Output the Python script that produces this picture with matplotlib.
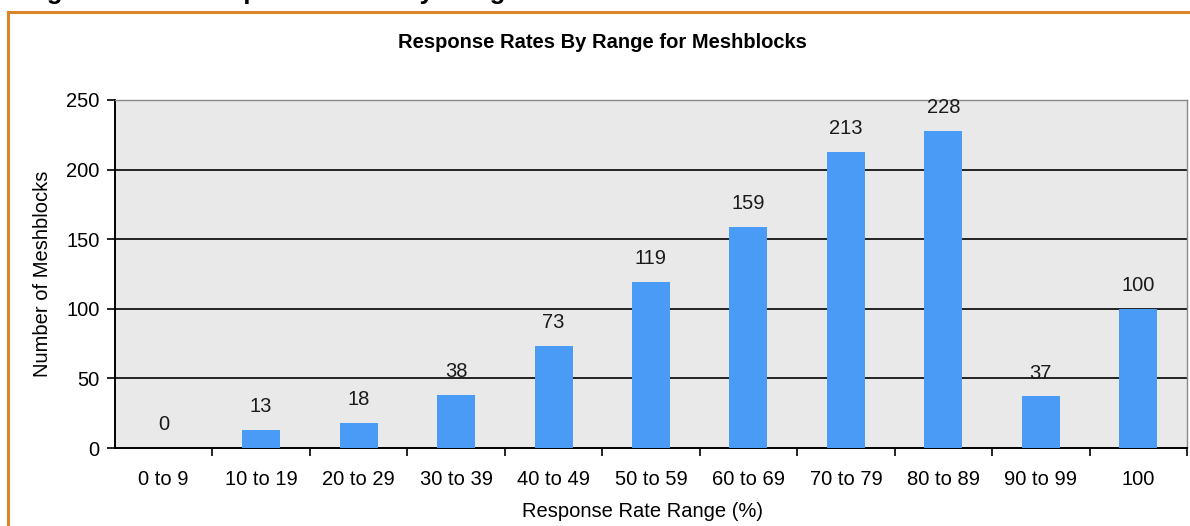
import matplotlib
matplotlib.use("Agg")
import matplotlib.pyplot as plt
from matplotlib.lines import Line2D

plt.rcParams['font.family'] = ['Liberation Sans', 'DejaVu Sans']

categories = ["0 to 9", "10 to 19", "20 to 29", "30 to 39", "40 to 49", "50 to 59",
              "60 to 69", "70 to 79", "80 to 89", "90 to 99", "100"]
meshblocks = [0, 13, 18, 38, 73, 119, 159, 213, 228, 37, 100]
y_ticks = [0, 50, 100, 150, 200, 250]

W, H = 1190, 526
fig = plt.figure(figsize=(W / 100, H / 100), dpi=100)
fig.patch.set_facecolor("white")

# Report heading, clipped by the top of the page
head_y = 1 + 1 / H
fig.text(24 / W, head_y, "Figure 4.1:", ha="left", va="baseline",
         fontsize=18.5, fontweight="bold", color="black")
fig.text(196 / W, head_y, "Response Rates by Range", ha="left", va="baseline",
         fontsize=18.5, fontweight="bold", color="black")

# Orange frame around the figure panel
frame_col = "#D9852A"
fig.add_artist(Line2D([8 / W, 1.0], [1 - 11.5 / H, 1 - 11.5 / H], color=frame_col,
                      lw=2.2, transform=fig.transFigure))
fig.add_artist(Line2D([8 / W, 8 / W], [0.0, 1 - 11.5 / H], color=frame_col,
                      lw=2.2, transform=fig.transFigure))

left, right, top, bottom = 115, 1187, 100, 448
ax = fig.add_axes([left / W, 1 - bottom / H, (right - left) / W, (bottom - top) / H])
ax.set_facecolor("#E9E9E9")

fs = 14.5
x = list(range(len(categories)))
ax.bar(x, meshblocks, width=0.39, color="#4A9BF5", zorder=3)
for xi, v in zip(x, meshblocks):
    ax.text(xi, v + 10, str(v), ha="center", va="bottom", fontsize=fs, color="#1a1a1a", zorder=4)

ax.set_xlim(-0.5, len(categories) - 0.5)
ax.set_ylim(0, 250)
ax.set_yticks(y_ticks)
ax.set_yticklabels([str(t) for t in y_ticks], fontsize=fs)
for t in y_ticks[1:-1]:
    ax.axhline(t, color="black", lw=1.2, zorder=2)

ax.set_xticks(x)
ax.set_xticklabels(categories, fontsize=fs)
ax.set_xticks([i + 0.5 for i in x], minor=True)
ax.tick_params(axis="x", which="major", length=0, pad=16)
ax.tick_params(axis="x", which="minor", length=6, width=1.2, direction="out")
ax.tick_params(axis="y", length=6, width=1.2, direction="out", pad=5)

for side in ("left", "bottom"):
    ax.spines[side].set_color("black")
    ax.spines[side].set_linewidth(1.4)
for side in ("top", "right"):
    ax.spines[side].set_color("#8a8a8a")
    ax.spines[side].set_linewidth(1.0)

ax.set_xlabel("Response Rate Range (%)", fontsize=fs, labelpad=9)
ax.xaxis.label.set_x((643 - left) / (right - left))
ax.set_ylabel("Number of Meshblocks", fontsize=fs, labelpad=10)

# Chart title, centred on the whole chart panel
fig.text(602 / W, 1 - 42 / H, "Response Rates By Range for Meshblocks", ha="center",
         va="center", fontsize=fs, fontweight="bold")

fig.savefig("out.png", dpi=100, facecolor="white")
